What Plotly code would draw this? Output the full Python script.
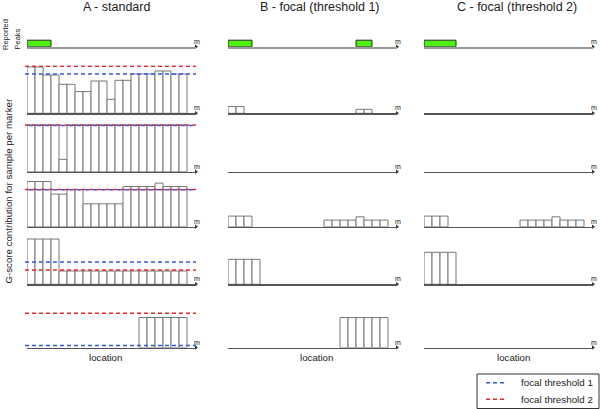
import plotly.graph_objects as go

# ---------------- data ----------------
column_titles = ["A - standard", "B - focal (threshold 1)", "C - focal (threshold 2)"]
n_markers = 20
x_label = "location"
unit_label = "m"
peaks_label = ["Reported", "Peaks"]
y_label = "G-score contribution for sample per marker"
legend_names = ["focal threshold 1", "focal threshold 2"]

# reported peaks as (first marker index, end marker index)
peaks_A = [(0, 3)]
peaks_B = [(0, 3), (16, 18)]
peaks_C = [(0, 4)]

_ = None
# G-score contribution per marker, samples 1..5 (column A - standard)
A_s1 = [46.3, 46.3, 38.3, 38.3, 29, 29, 21.7, 21.7, 32.3, 32.3, 14, 33, 33, 39.3, 39.3, 39.3, 42.3, 42.3, 39.3, 39.3]
A_s2 = [46.7, 46.7, 46.7, 46.7, 12.4, 46.7, 46.7, 46.7, 46.7, 46.7, 46.7, 46.7, 46.7, 46.7, 46.7, 46.7, 46.7, 46.7, 46.7, 46.7]
A_s3 = [45.3, 45.3, 45.3, 32.7, 32.7, 37.3, 37.3, 23, 23, 23, 23, 23, 40.3, 40.3, 40.3, 40.3, 43.7, 40.3, 40.3, 40.3]
A_s4 = [45.3, 45.3, 45.3, 45.3, 13.3, 13.3, 13.3, 13.3, 13.3, 13.3, 13.3, 13.3, 13.3, 13.3, 13.3, 13.3, 13.3, 13.3, 13.3, 13.3]
A_s5 = [_, _, _, _, _, _, _, _, _, _, _, _, _, _, 30, 30, 30, 30, 30, 30]

# column B - focal (threshold 1)
B_s1 = [6.7, 6.7, _, _, _, _, _, _, _, _, _, _, _, _, _, _, 4, 4, _, _]
B_s2 = [_] * 20
B_s3 = [10.7, 10.7, 10.7, _, _, _, _, _, _, _, _, _, 6.7, 6.7, 6.7, 6.7, 10, 6.7, 6.7, 6.7]
B_s4 = [25, 25, 25, 25, _, _, _, _, _, _, _, _, _, _, _, _, _, _, _, _]
B_s5 = [_, _, _, _, _, _, _, _, _, _, _, _, _, _, 30, 30, 30, 30, 30, 30]

# column C - focal (threshold 2)
C_s1 = [_] * 20
C_s2 = [_] * 20
C_s3 = [10.7, 10.7, 10.7, _, _, _, _, _, _, _, _, _, 6.7, 6.7, 6.7, 6.7, 10, 6.7, 6.7, 6.7]
C_s4 = [32, 32, 32, 32, _, _, _, _, _, _, _, _, _, _, _, _, _, _, _, _]
C_s5 = [_] * 20

# thresholds per sample (shown in column A)
thr1_A = [39.3, 46.2, 37.0, 22.3, 2.0]
thr2_A = [47.0, 46.7, 37.3, 14.3, 34.3]

peaks = [peaks_A, peaks_B, peaks_C]
samples = [[A_s1, A_s2, A_s3, A_s4, A_s5],
           [B_s1, B_s2, B_s3, B_s4, B_s5],
           [C_s1, C_s2, C_s3, C_s4, C_s5]]
thresholds = [(thr1_A, thr2_A), None, None]

# ---------------- layout / style ----------------
W, H = 600, 409
col_x0 = [27, 228, 424]
col_w = 169
row_base = [46.7, 113.3, 171.7, 226.8, 284.3, 347.5]
row_h = [13, 48, 48, 48, 48, 48]
row_range = [[0, 2], [0, 48], [0, 48], [0, 48], [0, 48], [0, 48]]
x_max = col_w / 8.0
FONT = "Liberation Sans, Arial, sans-serif"
TXT = "#222222"
RED = "#E8262A"
BLUE = "#3358E0"
GREEN = "#4FEF14"
BAR_LINE = "#777777"

fig = go.Figure()
layout = {}
shapes = []
annotations = []


def axname(idx, letter):
    return letter if idx == 1 else f"{letter}{idx}"


for r in range(6):
    for c in range(3):
        idx = r * 3 + c + 1
        xa, ya = axname(idx, "x"), axname(idx, "y")
        x0 = col_x0[c] / W
        x1 = (col_x0[c] + col_w) / W
        yb = (H - row_base[r]) / H
        yt = (H - row_base[r] + row_h[r]) / H
        layout[axname(idx, "xaxis")] = dict(
            domain=[x0, x1], range=[0, x_max], anchor=ya,
            showline=True, linecolor="#999999" if r == 0 else "#555555",
            linewidth=2 if r == 0 else 1.5,
            showgrid=False, zeroline=False, showticklabels=False, ticks="",
            fixedrange=True)
        layout[axname(idx, "yaxis")] = dict(
            domain=[yb, yt], range=row_range[r], anchor=xa, visible=False,
            fixedrange=True)

        if r == 0:
            pk = peaks[c]
            fig.add_trace(go.Bar(
                x=[(a + b) / 2 for a, b in pk], y=[1] * len(pk),
                width=[b - a for a, b in pk],
                marker=dict(color=GREEN, line=dict(color="#223322", width=1)),
                xaxis=xa, yaxis=ya, showlegend=False, hoverinfo="skip"))
        else:
            vals = samples[c][r - 1]
            xs = [i + 0.5 for i, v in enumerate(vals) if v is not None]
            ys = [v for v in vals if v is not None]
            if xs:
                fig.add_trace(go.Bar(
                    x=xs, y=ys, width=1,
                    marker=dict(color="white", line=dict(color=BAR_LINE, width=1)),
                    xaxis=xa, yaxis=ya, showlegend=False, hoverinfo="skip"))
            th = thresholds[c]
            if th is not None:
                t1, t2 = th[0][r - 1], th[1][r - 1]
                overlap = abs(t1 - t2) < 1.5
                xref = f"{xa} domain"
                shapes.append(dict(type="line", xref=xref, yref=ya,
                                   x0=-0.012, x1=1, y0=t1, y1=t1,
                                   line=dict(color=BLUE, width=1.6,
                                             dash="0px,4px,4px,0px" if overlap else "4px,3px")))
                shapes.append(dict(type="line", xref=xref, yref=ya,
                                   x0=-0.012, x1=1, y0=t2, y1=t2,
                                   line=dict(color=RED, width=1.6,
                                             dash="4px,4px" if overlap else "4px,3px")))
        # axis end arrowhead
        fig.add_trace(go.Scatter(
            x=[x_max], y=[0], mode="markers",
            marker=dict(symbol="triangle-right", size=4, color="#333333", line=dict(width=0)),
            xaxis=xa, yaxis=ya, showlegend=False, hoverinfo="skip",
            cliponaxis=False))
        # unit label
        annotations.append(dict(
            text=unit_label, xref=f"{xa} domain", yref=f"{ya} domain",
            x=1, y=0, xanchor="center", yanchor="bottom", xshift=1, yshift=0,
            showarrow=False, font=dict(family=FONT, size=7, color="#111111")))

# column titles
for c, (t, cx) in enumerate(zip(column_titles, [116.5, 320.3, 517.3])):
    annotations.append(dict(text=t, xref="paper", yref="paper",
                            x=cx / W, y=(H - 7.5) / H, xanchor="center", yanchor="middle",
                            showarrow=False, font=dict(family=FONT, size=12.5, color=TXT)))
# location labels
for cx in [105, 316.3, 513.3]:
    annotations.append(dict(text=x_label, xref="paper", yref="paper",
                            x=cx / W, y=(H - 357) / H, xanchor="center", yanchor="middle",
                            showarrow=False, font=dict(family=FONT, size=9.7, color=TXT)))
# reported peaks label
for t, cx, cy in [(peaks_label[0], 5, 35), (peaks_label[1], 17, 39.5)]:
    annotations.append(dict(text=t, xref="paper", yref="paper", textangle=-90,
                            x=cx / W, y=(H - cy) / H, xanchor="center", yanchor="middle",
                            showarrow=False, font=dict(family=FONT, size=7.5, color=TXT)))
annotations.append(dict(text=y_label, xref="paper", yref="paper", textangle=-90,
                        x=8 / W, y=(H - 191.5) / H, xanchor="center", yanchor="middle",
                        showarrow=False, font=dict(family=FONT, size=9.7, color=TXT)))

# legend (drawn as a boxed key)
shapes.append(dict(type="rect", xref="paper", yref="paper",
                   x0=477 / W, x1=599 / W, y0=(H - 408.5) / H, y1=(H - 374) / H,
                   line=dict(color="#333333", width=1), fillcolor="white", layer="above"))
for name, col, ly in zip(legend_names, [BLUE, RED], [382.7, 399.3]):
    shapes.append(dict(type="line", xref="paper", yref="paper",
                       x0=486 / W, x1=507 / W, y0=(H - ly) / H, y1=(H - ly) / H,
                       line=dict(color=col, width=1.6, dash="4px,3px"), layer="above"))
    annotations.append(dict(text=name, xref="paper", yref="paper",
                            x=519 / W, y=(H - ly) / H, xanchor="left", yanchor="middle",
                            showarrow=False, font=dict(family=FONT, size=9.8, color=TXT)))

fig.update_layout(
    width=W, height=H, margin=dict(l=0, r=0, t=0, b=0),
    paper_bgcolor="white", plot_bgcolor="rgba(0,0,0,0)",
    showlegend=False, hovermode=False,
    shapes=shapes, annotations=annotations, bargap=0,
    **layout)

fig.write_html("out.html", config={"displayModeBar": False, "staticPlot": True},
               post_script="document.body.style.margin='0';document.body.style.padding='0';")
